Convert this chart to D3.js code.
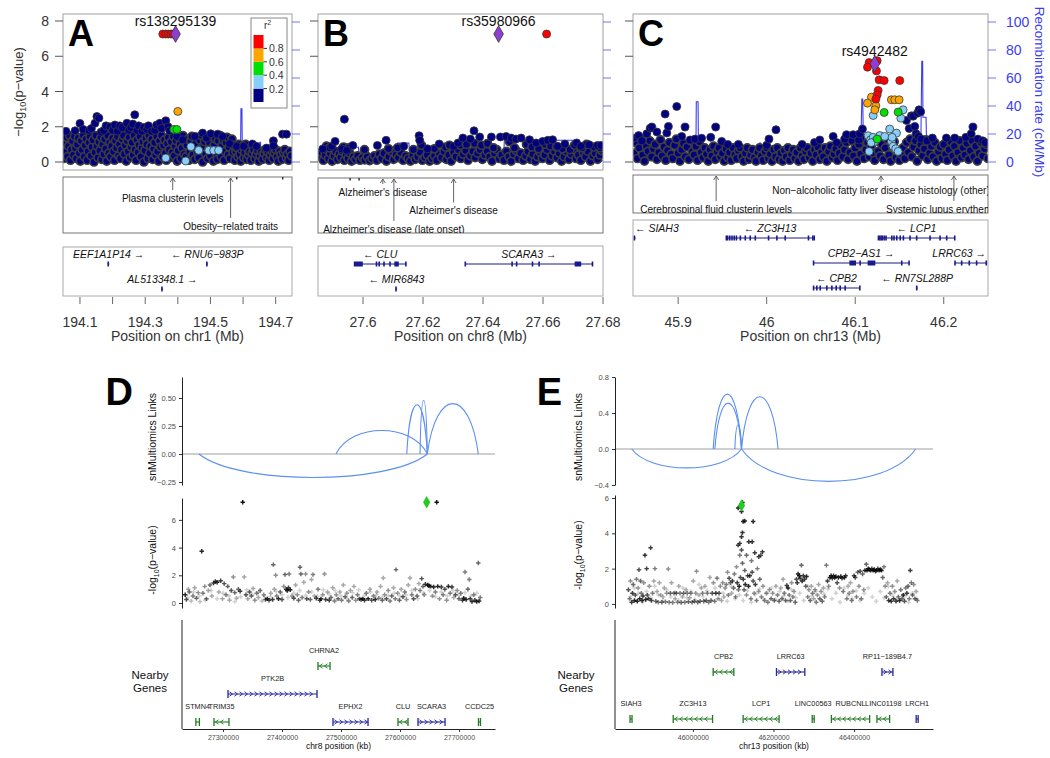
<!DOCTYPE html>
<html><head><meta charset="utf-8">
<script src="https://cdn.jsdelivr.net/npm/d3@7/dist/d3.min.js"></script>
<style>html,body{margin:0;padding:0;background:#fff;}</style>
</head><body>
<svg id="fig" width="1050" height="758" xmlns="http://www.w3.org/2000/svg"></svg>
<script>
// ================= DATA =================
// ---- Panel A : chr1 (Mb) ----
const aTicks=[194.1,194.2,194.3,194.4,194.5,194.6,194.7];
const aTickLabels=["194.1","","194.3","","194.5","","194.7"];
const aBand=[[194.050,0.2],[194.053,1.1],[194.056,0.6],[194.059,1.4],[194.062,0.3],[194.065,0.9],[194.068,1.5],[194.071,0.1],[194.074,0.7],[194.077,1.2],[194.080,0.4],[194.083,1.45],[194.086,0.8],[194.089,0.2],[194.092,1.0],[194.095,1.35],[194.098,0.5],[194.101,0.05],[194.104,1.2],[194.107,0.7],[194.110,1.5],[194.113,0.3],[194.116,0.95],[194.119,1.3],[194.122,0.1],[194.125,0.6],[194.128,1.1],[194.131,1.45],[194.134,0.35],[194.137,0.85],[194.140,1.25],[194.143,0.0],[194.146,0.55],[194.149,1.5],[194.152,0.9],[194.155,0.25],[194.158,1.15],[194.161,0.65],[194.164,1.4],[194.167,0.15],[194.170,1.0],[194.173,0.45],[194.176,1.3],[194.179,0.75],[194.182,0.05],[194.185,1.5],[194.188,0.5],[194.191,1.1],[194.194,0.3],[194.197,0.9],[194.200,1.35],[194.203,0.6],[194.206,0.1],[194.209,1.2],[194.212,0.8],[194.215,1.45],[194.218,0.35],[194.221,1.0],[194.224,0.2],[194.227,0.7],[194.230,1.3],[194.233,1.5],[194.236,0.45],[194.239,0.95],[194.242,0.05],[194.245,1.2],[194.248,0.6],[194.251,1.4],[194.254,0.25],[194.257,0.85],[194.260,1.1],[194.263,0.4],[194.266,1.5],[194.269,0.7],[194.272,0.1],[194.275,1.25],[194.278,0.55],[194.281,0.95],[194.284,1.45],[194.287,0.3],[194.290,0.8],[194.293,1.15],[194.296,0.0],[194.299,0.65],[194.302,1.35],[194.305,1.0],[194.308,0.2],[194.311,1.5],[194.314,0.5],[194.317,0.9],[194.320,1.3],[194.323,0.15],[194.326,0.75],[194.329,1.1],[194.332,0.4],[194.335,1.45],[194.338,0.6],[194.341,0.05],[194.344,1.2],[194.347,0.85],[194.350,1.5],[194.353,0.3],[194.356,0.95],[194.359,1.25],[194.362,0.5],[194.365,0.1],[194.368,1.05],[194.371,1.4],[194.374,0.7],[194.377,0.25],[194.380,1.15],[194.383,0.55],[194.386,1.45],[194.389,0.35],[194.392,0.9],[194.395,1.2],[194.398,0.05],[194.401,0.65],[194.404,1.35],[194.407,1.0],[194.410,0.2],[194.413,0.8],[194.416,1.5],[194.419,0.45],[194.422,1.1],[194.425,0.3],[194.428,0.95],[194.431,1.3],[194.434,0.1],[194.437,0.6],[194.440,1.2],[194.443,1.45],[194.446,0.4],[194.449,0.85],[194.452,0.15],[194.455,1.05],[194.458,1.4],[194.461,0.55],[194.464,0.25],[194.467,1.25],[194.470,0.75],[194.473,1.5],[194.476,0.0],[194.479,0.9],[194.482,1.15],[194.485,0.45],[194.488,1.35],[194.491,0.2],[194.494,0.7],[194.497,1.1],[194.500,0.35],[194.503,1.45],[194.506,0.8],[194.509,0.05],[194.512,1.0],[194.515,1.3],[194.518,0.5],[194.521,0.15],[194.524,1.2],[194.527,0.65],[194.530,1.5],[194.533,0.3],[194.536,0.95],[194.539,1.25],[194.542,0.1],[194.545,0.6],[194.548,1.1],[194.551,1.4],[194.554,0.4],[194.557,0.85],[194.560,0.2],[194.563,1.05],[194.566,1.3],[194.569,0.55],[194.572,0.95],[194.575,0.1],[194.578,0.6],[194.581,0.8],[194.584,0.3],[194.587,1.0],[194.590,0.45],[194.593,0.05],[194.596,0.7],[194.599,0.9],[194.602,0.25],[194.605,0.55],[194.608,1.0],[194.611,0.15],[194.614,0.75],[194.617,0.4],[194.620,0.6],[194.624,0.1],[194.628,0.5],[194.632,0.7],[194.636,0.2],[194.640,0.45],[194.644,0.65],[194.648,0.05],[194.652,0.35],[194.656,0.6],[194.660,0.15],[194.664,0.5],[194.668,0.7],[194.672,0.25],[194.676,0.55],[194.680,0.1],[194.684,0.4],[194.688,0.65],[194.692,0.2],[194.696,0.5],[194.700,0.7],[194.704,0.3],[194.708,0.05],[194.712,0.6],[194.716,0.4],[194.720,0.15],[194.724,0.55],[194.728,0.7],[194.732,0.25],[194.736,0.45],[194.740,0.1],[194.744,0.6],[194.748,0.35]];
const aSnps=[[194.057,1.74,0.1],[194.085,1.77,0.1],[194.100,2.19,0.1],[194.110,1.85,0.1],[194.128,1.79,0.1],[194.135,1.9,0.1],[194.146,2.2,0.1],[194.152,2.58,0.1],[194.158,2.49,0.1],[194.165,1.7,0.1],[194.173,1.79,0.1],[194.180,2.05,0.1],[194.192,2.0,0.1],[194.200,1.8,0.1],[194.207,2.1,0.1],[194.215,1.75,0.1],[194.222,2.05,0.1],[194.230,1.95,0.1],[194.244,2.2,0.1],[194.250,1.8,0.1],[194.256,1.96,0.1],[194.262,2.15,0.1],[194.268,2.68,0.1],[194.275,1.8,0.1],[194.280,2.05,0.1],[194.290,1.75,0.1],[194.296,1.96,0.1],[194.305,1.85,0.1],[194.310,2.05,0.1],[194.320,1.74,0.1],[194.330,1.8,0.1],[194.335,2.1,0.1],[194.345,2.2,0.1],[194.350,1.9,0.1],[194.363,2.34,0.1],[194.370,2.0,0.1],[194.375,1.77,0.1],[194.397,1.45,0.1],[194.415,1.26,0.1],[194.452,1.45,0.1],[194.476,1.64,0.1],[194.488,1.36,0.1],[194.501,1.6,0.1],[194.522,1.58,0.1],[194.537,1.45,0.1],[194.559,1.04,0.1],[194.580,0.89,0.1],[194.602,0.89,0.1],[194.629,1.02,0.1],[194.641,0.89,0.1],[194.672,0.79,0.1],[194.693,1.2,0.1],[194.693,0.92,0.1],[194.721,1.58,0.1],[194.733,1.58,0.1],
[194.440,0.87,0.3],[194.363,0.23,0.3],[194.424,0.06,0.3],[194.464,0.66,0.3],[194.495,0.66,0.3],[194.510,0.66,0.3],[194.525,0.66,0.3],
[194.388,1.85,0.5],[194.397,1.85,0.5],[194.400,2.87,0.7],
[194.354,7.26,0.9],[194.363,7.26,0.9],[194.371,7.26,0.9],[194.379,7.26,0.9],[194.386,7.26,0.9]];
const aLead=[194.393,7.26];
const aRecomb=[[194.048,0.5],[194.2,0.8],[194.35,0.4],[194.5,0.6],[194.592,0.5],[194.5935,38],[194.5965,38],[194.598,0.6],[194.65,0.5],[194.6515,14],[194.6535,14],[194.655,0.7],[194.75,0.5]];
const aGwas=[[194.3844,"Plasma clusterin levels",0],[194.5618,"Obesity\u2212related traits",1],[194.5805,"",-1],[194.7215,"",-1]];
const aGenes=[["EEF1A1P14",194.1856,194.1864,"+",0,[]],["RNU6\u2212983P",194.4880,194.4886,"-",0,[]],["AL513348.1",194.3504,194.3510,"+",1,[]]];

// ---- Panel B : chr8 (Mb) ----
const bTicks=[27.6,27.62,27.64,27.66,27.68];
const bTickLabels=["27.6","27.62","27.64","27.66","27.68"];
const bBand=[[27.5856,0.3],[27.5861,0.55],[27.5868,0.1],[27.5874,0.4],[27.588,0.7],[27.5885,0.2],[27.5891,0.5],[27.5897,0.05],[27.5903,0.35],[27.5909,0.6],[27.5915,0.15],[27.592,0.45],[27.5926,0.25],[27.5932,0.6],[27.5938,0.1],[27.5944,0.4],[27.595,0.2],[27.5956,0.5],[27.5962,0.05],[27.5968,0.3],[27.5975,0.15],[27.5982,0.35],[27.599,0.1],[27.5998,0.25],[27.6006,0.12],[27.6014,0.3],[27.6022,0.08],[27.603,0.2],[27.6038,0.35],[27.6046,0.1],[27.6054,0.45],[27.6062,0.2],[27.607,0.5],[27.6078,0.05],[27.6086,0.3],[27.6094,0.6],[27.6102,0.15],[27.611,0.4],[27.6118,0.25],[27.6126,0.55],[27.6134,0.1],[27.6142,0.35],[27.615,0.2],[27.6158,0.05],[27.6166,0.4],[27.6174,0.15],[27.6182,0.3],[27.619,0.55],[27.6198,0.1],[27.6206,0.25],[27.6214,0.4],[27.6222,0.05],[27.623,0.2],[27.6238,0.35],[27.6246,0.1],[27.6254,0.5],[27.6262,0.25],[27.627,0.6],[27.6278,0.15],[27.6286,0.4],[27.6294,0.05],[27.6302,0.55],[27.631,0.3],[27.6318,0.7],[27.6326,0.2],[27.6334,0.45],[27.6342,0.65],[27.635,0.1],[27.6358,0.35],[27.6366,0.6],[27.6374,0.25],[27.6382,0.5],[27.639,0.7],[27.6398,0.15],[27.6406,0.4],[27.6414,0.6],[27.6422,0.3],[27.643,0.05],[27.6438,0.5],[27.6446,0.7],[27.6454,0.2],[27.6462,0.4],[27.647,0.1],[27.6478,0.6],[27.6486,0.3],[27.6494,0.05],[27.6502,0.45],[27.651,0.65],[27.6518,0.2],[27.6526,0.5],[27.6534,0.1],[27.6542,0.35],[27.655,0.6],[27.6558,0.15],[27.6566,0.45],[27.6574,0.05],[27.6582,0.3],[27.659,0.55],[27.6598,0.2],[27.6606,0.4],[27.6614,0.7],[27.6622,0.1],[27.663,0.35],[27.6638,0.6],[27.6646,0.25],[27.6654,0.5],[27.6662,0.05],[27.667,0.3],[27.6678,0.6],[27.6686,0.15],[27.6694,0.45],[27.6702,0.7],[27.671,0.2],[27.6718,0.4],[27.6726,0.1],[27.6734,0.55],[27.6742,0.3],[27.675,0.6],[27.6758,0.05],[27.6766,0.35],[27.6774,0.5],[27.6782,0.15],[27.679,0.4],[27.6795,0.65],
[27.5878,0.9],[27.5888,0.8],[27.5935,0.85],[27.5952,0.8],[27.6005,0.7],[27.6085,0.75],[27.6115,0.8],[27.6168,0.7],[27.6195,0.95],[27.6238,0.75],[27.6275,0.85],[27.6288,0.95],[27.6325,0.95],[27.6345,1.0],[27.6372,1.05],[27.6395,0.95],[27.6415,1.05],[27.6435,0.8],[27.6488,1.15],[27.6505,0.8],[27.6545,1.0],[27.6563,0.85],[27.6585,0.75],[27.6608,1.0],[27.6625,0.9],[27.6645,0.85],[27.6665,0.75],[27.669,0.7],[27.6705,0.95],[27.673,0.8],[27.6745,1.0],[27.677,0.85],[27.679,0.8]];
const bSnps=[[27.5866,0.74,0.1],[27.5896,0.89,0.1],[27.5907,1.17,0.1],[27.5929,0.74,0.1],[27.5938,2.43,0.1],[27.5946,0.66,0.1],[27.5966,0.94,0.1],[27.6048,0.94,0.1],[27.6077,1.23,0.1],[27.6136,0.89,0.1],[27.6187,1.49,0.1],[27.6189,1.23,0.1],[27.6215,0.75,0.1],[27.6254,1.02,0.1],[27.6302,0.89,0.1],[27.6317,1.08,0.1],[27.6333,1.36,0.1],[27.6358,1.3,0.1],[27.637,1.77,0.1],[27.6389,1.42,0.1],[27.6428,1.42,0.1],[27.6458,1.42,0.1],[27.6477,1.45,0.1],[27.6494,1.36,0.1],[27.651,1.3,0.1],[27.6527,1.36,0.1],[27.6555,1.26,0.1],[27.6577,1.08,0.1],[27.6599,1.17,0.1],[27.6616,1.23,0.1],[27.6632,1.26,0.1],[27.6649,0.89,0.1],[27.6673,1.02,0.1],[27.6712,1.08,0.1],[27.6726,0.89,0.1],[27.6754,0.98,0.1],[27.6782,0.94,0.1],[27.6793,0.94,0.1],
[27.6612,7.26,0.9]];
const bLead=[27.6452,7.26];
const bRecomb=[[27.585,2],[27.5957,2],[27.5959,10.5],[27.5985,10.5],[27.5987,1.5],[27.6111,1.5],[27.6115,13.5],[27.6153,13.5],[27.6157,2],[27.6469,2],[27.6471,15.5],[27.672,15.5],[27.6722,1],[27.68,1]];
const bGwas=[[27.6066,"Alzheimer's disease",0],[27.6103,"Alzheimer's disease (late onset)",2],[27.6302,"Alzheimer's disease",1],[27.5957,"",-1],[27.5987,"",-1]];
const bGenes=[["CLU",27.5971,27.6144,"-",0,[[27.5971,27.6001],[27.6044,27.6046],[27.6053,27.6055],[27.6069,27.6071],[27.6089,27.6091],[27.6106,27.6121],[27.6142,27.6144]]],
["SCARA3",27.6340,27.6766,"+",0,[[27.634,27.6342],[27.6496,27.6498],[27.6511,27.6513],[27.6564,27.6566],[27.6586,27.659],[27.6707,27.6729],[27.6764,27.6766]]],
["MIR6843",27.6109,27.6111,"-",1,[[27.6109,27.6111]]]];

// ---- Panel C : chr13 (Mb) ----
const cTicks=[45.9,46,46.1,46.2];
const cTickLabels=["45.9","46","46.1","46.2"];
const cBand=[[45.850,0.5],[45.852,1.1],[45.854,0.2],[45.856,0.8],[45.858,1.3],[45.860,0.4],[45.862,0.05],[45.864,0.9],[45.866,0.6],[45.868,1.2],[45.870,0.3],[45.872,0.75],[45.874,1.0],[45.876,0.15],[45.878,0.55],[45.880,1.25],[45.882,0.35],[45.884,0.85],[45.886,0.1],[45.888,0.65],[45.890,1.1],[45.892,0.45],[45.894,0.2],[45.896,0.95],[45.898,1.3],[45.900,0.5],[45.902,0.05],[45.904,0.7],[45.906,1.05],[45.908,0.3],[45.910,0.85],[45.912,0.15],[45.914,1.2],[45.916,0.6],[45.918,0.4],[45.920,0.9],[45.922,0.1],[45.924,1.15],[45.926,0.55],[45.928,0.25],[45.930,0.8],[45.932,0.45],[45.934,0.05],[45.936,0.7],[45.938,0.35],[45.940,0.9],[45.942,0.15],[45.944,0.6],[45.946,0.8],[45.948,0.3],[45.950,0.5],[45.952,0.05],[45.954,0.75],[45.956,0.25],[45.958,0.55],[45.960,0.1],[45.962,0.8],[45.964,0.4],[45.966,0.2],[45.968,0.65],[45.970,0.8],[45.972,0.3],[45.974,0.05],[45.976,0.5],[45.978,0.8],[45.980,0.15],[45.982,0.4],[45.984,0.7],[45.986,0.25],[45.988,0.05],[45.990,0.55],[45.992,0.8],[45.994,0.35],[45.996,0.1],[45.998,0.6],[46.000,0.8],[46.002,0.2],[46.004,0.45],[46.006,0.05],[46.008,0.7],[46.010,0.3],[46.012,0.8],[46.014,0.15],[46.016,0.5],[46.018,0.05],[46.020,0.65],[46.022,0.3],[46.024,0.8],[46.026,0.1],[46.028,0.45],[46.030,0.7],[46.032,0.2],[46.034,0.55],[46.036,0.05],[46.038,0.8],[46.040,0.35],[46.042,0.15],[46.044,0.6],[46.046,0.8],[46.048,0.25],[46.050,0.5],[46.052,0.05],[46.054,0.7],[46.056,0.4],[46.058,0.85],[46.060,0.15],[46.062,0.55],[46.064,0.3],[46.066,0.8],[46.068,0.05],[46.070,0.6],[46.072,0.9],[46.074,0.25],[46.076,0.45],[46.078,0.75],[46.080,0.1],[46.082,0.5],[46.084,0.95],[46.086,0.3],[46.088,0.7],[46.090,1.1],[46.092,0.15],[46.094,0.55],[46.096,1.2],[46.098,0.35],[46.100,0.8],[46.102,0.05],[46.104,1.0],[46.106,0.45],[46.108,1.3],[46.110,0.2],[46.112,0.7],[46.114,1.1],[46.116,0.3],[46.118,0.9],[46.120,0.5],[46.122,0.1],[46.124,1.2],[46.126,0.6],[46.128,0.35],[46.130,1.0],[46.132,0.15],[46.134,0.8],[46.136,1.3],[46.138,0.4],[46.140,0.05],[46.142,0.9],[46.144,1.15],[46.146,0.25],[46.148,0.6],[46.150,0.1],[46.152,0.45],[46.154,0.8],[46.156,0.2],[46.158,1.1],[46.160,0.55],[46.162,1.3],[46.164,0.3],[46.166,0.85],[46.168,1.2],[46.170,0.05],[46.172,0.65],[46.174,1.0],[46.176,0.35],[46.178,0.75],[46.180,1.25],[46.182,0.15],[46.184,0.5],[46.186,0.9],[46.188,0.3],[46.190,1.1],[46.192,0.05],[46.194,0.6],[46.196,0.85],[46.198,0.2],[46.200,1.0],[46.202,0.45],[46.204,0.1],[46.206,0.7],[46.208,1.15],[46.210,0.35],[46.212,0.9],[46.214,0.05],[46.216,0.55],[46.218,1.2],[46.220,0.25],[46.222,0.8],[46.224,0.4],[46.226,1.05],[46.228,0.15],[46.230,0.65],[46.232,1.2],[46.234,0.3],[46.236,0.9],[46.238,0.05],[46.240,0.5],[46.242,1.1],[46.244,0.35],[46.246,0.75],[46.248,1.0],[46.250,0.2]];
const cSnps=[[45.8496,1.35,0.1],[45.8553,1.5,0.1],[45.8590,1.2,0.1],[45.8646,1.6,0.1],[45.8684,1.92,0.1],[45.8703,1.98,0.1],[45.8760,1.7,0.1],[45.8853,2.72,0.1],[45.8872,1.65,0.1],[45.8890,2.02,0.1],[45.8984,3.15,0.1],[45.9040,1.45,0.1],[45.9078,1.98,0.1],[45.9135,1.25,0.1],[45.9191,1.3,0.1],[45.9265,1.35,0.1],[45.9368,1.4,0.1],[45.9424,1.98,0.1],[45.9492,1.17,0.1],[45.9560,1.0,0.1],[45.9680,1.0,0.1],[46.0000,0.95,0.1],[46.0026,1.3,0.1],[46.0105,1.83,0.1],[46.0400,1.0,0.1],[46.0540,1.1,0.1],[46.0600,1.25,0.1],[46.0751,1.45,0.1],[46.0790,1.1,0.1],[46.0880,1.3,0.1],[46.0902,1.55,0.1],[46.0977,1.55,0.1],[46.1040,1.25,0.1],[46.1050,1.6,0.1],[46.1082,1.87,0.1],[46.1579,2.36,0.1],[46.1610,1.9,0.1],[46.1635,2.62,0.1],[46.1655,2.6,0.1],[46.1673,2.02,0.1],[46.1688,1.6,0.1],[46.1703,2.77,0.1],[46.1715,1.45,0.1],[46.1721,2.96,0.1],[46.1740,2.85,0.1],[46.1745,1.3,0.1],[46.1810,1.2,0.1],[46.1872,1.36,0.1],[46.2030,1.36,0.1],[46.2124,1.36,0.1],[46.2250,1.4,0.1],[46.2310,1.6,0.1],[46.2330,1.98,0.1],[46.2385,1.3,0.1],[46.2440,1.2,0.1],[46.2470,1.1,0.1],
[46.1203,2.64,0.3],[46.1541,2.96,0.3],[46.1515,2.49,0.3],[46.1390,1.87,0.3],[46.1466,1.64,0.3],[46.1146,1.49,0.3],[46.1173,1.26,0.3],[46.1203,1.4,0.3],[46.1221,1.17,0.3],[46.1278,1.5,0.3],[46.1409,1.17,0.3],[46.1428,0.89,0.3],[46.1458,0.75,0.3],[46.1485,0.6,0.3],[46.1157,0.6,0.3],[46.1334,1.45,0.3],[46.1417,1.4,0.3],[46.1180,1.1,0.3],
[46.1327,2.81,0.5],[46.1485,2.83,0.5],[46.1248,1.30,0.5],
[46.1184,3.68,0.7],[46.1139,3.34,0.7],[46.1233,3.19,0.7],[46.1221,2.96,0.7],[46.1409,3.53,0.7],[46.1447,3.53,0.7],[46.1496,3.53,0.7],
[46.1157,5.64,0.9],[46.1248,5.75,0.9],[46.1139,5.38,0.9],[46.1240,5.17,0.9],[46.1270,4.66,0.9],[46.1327,4.62,0.9],[46.1503,4.62,0.9],[46.1259,4.06,0.9],[46.1248,3.81,0.9],[46.1233,3.57,0.9]];
const cLead=[46.1221,5.57];
const cRecomb=[[45.849,2],[45.92,3],[45.9205,43],[45.9225,43],[45.923,3],[45.9915,1.5],[45.992,13.5],[45.993,13.5],[45.9935,1.5],[46.106,2],[46.1075,45],[46.1085,45],[46.1095,2],[46.145,1],[46.147,0],[46.157,0],[46.159,3],[46.174,4],[46.1752,72],[46.1762,72],[46.1765,32],[46.18,32],[46.181,3],[46.25,3]];
const cGwas=[[45.9429,"Cerebrospinal fluid clusterin levels",1],[46.1291,"Non\u2212alcoholic fatty liver disease histology (other)",0],[46.2115,"Systemic lupus erythematosus",1]];
const cGenes=[["SIAH3",45.8503,45.8506,"-",0,[]],
["ZC3H13",45.9541,46.0537,"-",0,[[45.9541,45.9546],[45.9556,45.9562],[45.958,45.9586],[45.9605,45.961],[45.963,45.9635],[45.9655,45.966],[45.9699,45.9703],[45.9755,45.9758],[45.9811,45.9814],[45.9868,45.9871],[46.0018,46.0021],[46.0112,46.0115],[46.0206,46.0209],[46.0469,46.0472],[46.0518,46.0521],[46.0534,46.0537]]],
["LCP1",46.1259,46.2124,"-",0,[[46.1259,46.1263],[46.1275,46.1279],[46.129,46.1294],[46.1305,46.1309],[46.1325,46.133],[46.1345,46.1353],[46.141,46.1414],[46.1435,46.1439],[46.1466,46.147],[46.1505,46.1509],[46.1541,46.1545],[46.1616,46.162],[46.1691,46.1695],[46.1842,46.1846],[46.1955,46.1959],[46.203,46.2034],[46.2121,46.2124]]],
["CPB2\u2212AS1",46.0526,46.1609,"+",1,[[46.0526,46.0529],[46.094,46.1015],[46.1052,46.1056],[46.1146,46.1233],[46.1522,46.1526],[46.1605,46.1609]]],
["LRRC63",46.2124,46.249,"+",1,[[46.2124,46.2127],[46.2199,46.2202],[46.2285,46.2288],[46.2368,46.2371],[46.2477,46.249]]],
["CPB2",46.0526,46.1052,"-",2,[[46.0526,46.0529],[46.0563,46.0566],[46.0601,46.0604],[46.0676,46.0679],[46.0733,46.0736],[46.0782,46.0785],[46.0827,46.083],[46.0883,46.0886],[46.1049,46.1052]]],
["RN7SL288P",46.1691,46.1694,"-",2,[]]];

// ---- Panel D : chr8 (kb) ----
const dTicks=[27300,27400,27500,27600,27700];
const dArcs=[[27259.3,27646.3,-0.21],[27491.5,27646.3,0.21],[27611.4,27646.3,0.44],[27633.9,27646.3,0.48],[27646.3,27732.7,0.45]];
const dSnps=[[27236,0.6,0.9],[27238,0.25,0.7],[27241,1.0,0.3],[27243,0.8,0.6],[27246,0.15,0.2],[27249,0.5,0.5],[27252,1.1,0.3],[27255,0.35,0.6],[27258,0.75,0.4],[27261,0.1,0.2],[27263.9,3.73,0.9],[27266,0.7,0.5],[27269,1.2,0.4],[27272,0.3,0.6],[27275,0.9,0.3],[27278,1.3,0.6],[27281,0.5,0.3],[27284,1.45,0.8],[27287,1.55,0.8],[27290,1.5,0.9],[27293,0.8,0.3],[27296,1.6,0.8],[27299,0.3,0.3],[27302,1.4,0.7],[27305,0.6,0.5],[27308,1.2,0.6],[27311,0.2,0.3],[27314,0.9,0.7],[27317.5,1.88,0.4],[27320,0.75,0.6],[27323,0.35,0.3],[27326,1.0,0.6],[27329,0.85,0.8],[27333.4,7.28,1],[27336,1.88,0.3],[27339,0.6,0.7],[27342,0.3,0.3],[27345,0.8,0.7],[27348,0.5,0.6],[27351,1.05,0.3],[27354,0.2,0.4],[27357,0.7,0.5],[27360,0.4,0.3],[27363,0.9,0.6],[27366,0.15,0.2],[27369,0.6,0.4],[27372,0.25,0.7],[27375,0.3,0.9],[27378,0.2,0.8],[27381,0.7,0.3],[27384,0.25,0.8],[27385.3,2.77,0.6],[27387,1.0,0.3],[27389.3,2.0,0.4],[27391,0.5,0.5],[27394,0.3,0.9],[27397,0.8,0.6],[27400,0.25,0.7],[27403,1.2,0.4],[27405,2.05,0.6],[27407,1.0,0.8],[27409,0.9,0.9],[27411,1.1,0.8],[27412,2.1,0.5],[27414,0.95,0.9],[27417,0.5,0.4],[27420,0.35,0.7],[27423,1.3,0.3],[27426,0.6,0.4],[27428,0.2,0.6],[27430.5,2.58,0.6],[27432,2.1,0.6],[27434,0.4,0.5],[27437,1.5,0.3],[27440,2.1,0.4],[27442,0.3,0.7],[27445,0.8,0.4],[27448,0.25,0.6],[27450,1.7,0.3],[27452.5,2.05,0.5],[27455,0.5,0.3],[27458,0.35,0.8],[27461,1.0,0.5],[27464,0.2,0.8],[27466,0.3,0.9],[27469,0.6,0.4],[27472,2.1,0.4],[27474,0.25,0.8],[27477,0.8,0.3],[27480,0.2,0.8],[27483,0.4,0.6],[27486,1.1,0.3],[27489,0.15,0.5],[27492,0.6,0.4],[27495,0.3,0.6],[27498,0.8,0.3],[27501,0.2,0.5],[27504,1.3,0.3],[27507,0.45,0.6],[27510,0.7,0.4],[27513,0.15,0.5],[27516,0.9,0.3],[27519,0.4,0.6],[27522,1.2,0.3],[27525,0.2,0.4],[27528,0.6,0.5],[27531,0.3,0.7],[27534,0.25,0.8],[27537,0.3,0.9],[27540,0.2,0.8],[27543,0.7,0.5],[27546,0.3,0.9],[27549,1.0,0.3],[27552,0.2,0.7],[27555,0.5,0.5],[27558,0.25,0.9],[27561,0.8,0.3],[27564,0.35,0.5],[27567,1.2,0.3],[27570,0.2,0.6],[27571.7,1.8,0.3],[27574,0.6,0.4],[27577,0.3,0.7],[27580,0.9,0.4],[27583,0.15,0.5],[27586,0.5,0.6],[27589,1.1,0.3],[27592,0.3,0.5],[27593.2,2.41,0.6],[27596,0.7,0.4],[27599,0.2,0.6],[27602,1.0,0.3],[27605,0.45,0.7],[27608,0.8,0.5],[27611,0.25,0.4],[27614,1.3,0.3],[27617,1.8,0.3],[27620,0.6,0.5],[27623,0.3,0.7],[27626,1.0,0.4],[27629,0.5,0.6],[27632,1.4,0.3],[27634,0.9,0.5],[27636.7,1.76,0.7],[27639,1.2,0.6],[27641,0.6,0.4],[27643,1.35,0.8],[27647,1.3,0.9],[27649,1.25,0.9],[27652,1.2,0.8],[27655,0.5,0.4],[27657,1.15,0.9],[27660,0.8,0.5],[27662.2,7.28,1],[27664,1.2,0.9],[27667,0.3,0.4],[27670,1.15,0.8],[27673,0.6,0.5],[27676,1.0,0.7],[27679,0.2,0.4],[27682,1.2,0.9],[27685,0.7,0.5],[27688,1.15,0.8],[27691,0.4,0.3],[27694,0.6,0.7],[27697,0.9,0.4],[27700,0.3,0.6],[27703,0.7,0.5],[27706,0.2,0.8],[27708,0.35,0.9],[27710.2,2.24,0.5],[27712,0.25,0.9],[27715,1.0,0.6],[27717.5,1.69,0.5],[27719,0.3,0.8],[27722,0.1,0.9],[27725,0.6,0.5],[27727,0.2,0.8],[27730,0.1,0.9],[27732.7,2.89,0.6],[27734,0.15,0.9],[27736,0.4,0.5],
[27240,0.4,0.1],[27250,0.8,0.1],[27260,0.5,0.1],[27270,0.2,0.1],[27280,0.9,0.1],[27290,0.3,0.1],[27300,0.7,0.1],[27310,0.5,0.1],[27320,0.1,0.1],[27330,0.45,0.1],[27340,0.95,0.1],[27350,0.6,0.1],[27360,0.75,0.1],[27370,0.5,0.1],[27380,0.45,0.1],[27390,0.85,0.1],[27400,0.6,0.1],[27410,0.4,0.1],[27420,0.7,0.1],[27430,0.9,0.1],[27440,0.55,0.1],[27450,0.8,0.1],[27460,0.5,0.1],[27470,0.95,0.1],[27480,0.65,0.1],[27490,0.9,0.1],[27500,0.5,0.1],[27510,0.3,0.1],[27520,0.75,0.1],[27530,0.95,0.1],[27540,0.55,0.1],[27550,0.8,0.1],[27560,0.6,0.1],[27570,0.4,0.1],[27580,0.55,0.1],[27590,0.7,0.1],[27600,0.5,0.1],[27610,0.6,0.1],[27620,0.9,0.1],[27630,0.3,0.1],[27640,0.7,0.1],[27650,0.9,0.1],[27660,0.45,0.1],[27670,0.8,0.1],[27680,0.5,0.1],[27690,0.9,0.1],[27700,0.55,0.1],[27710,0.75,0.1],[27720,0.5,0.1],[27730,0.7,0.1]];
const dLead=[27645.2,7.28];
const dGenes=[["STMN4",27254,27260,"-",0],["TRIM35",27284.7,27310.1,"-",0],["PTK2B",27308.5,27459.3,"+",1],["CHRNA2",27461,27481.4,"-",2],["EPHX2",27486.4,27545.8,"+",0],["CLU",27596.6,27613.6,"-",0],["SCARA3",27630.5,27676.3,"+",0],["CCDC25",27733,27735,"-",0]];

// ---- Panel E : chr13 (kb) ----
const eTicks=[46000,46200,46400];
const eArcs=[[45848.1,46120.7,-0.21],[46120.7,46552.7,-0.36],[46050.3,46120.7,0.61],[46054.5,46120.7,0.51],[46104.1,46120.7,0.27],[46120.7,46211.4,0.58]];
const eSnps=[[46123.0,5.75,0.95],[46112.3,5.43,0.9],[46120.6,5.24,0.9],[46124.7,4.67,0.9],[46128.8,4.7,0.9],[46149.5,4.67,0.9],[46123.0,4.04,0.85],[46120.6,3.81,0.85],[46116.4,3.43,0.8],[46112.3,3.33,0.8],[46138.7,3.52,0.85],[46147.0,3.52,0.85],[46120.6,3.05,0.7],[46153.6,2.9,0.8],[46172.6,2.95,0.8],[46163.5,2.67,0.8],[46168.5,2.76,0.7],[46133,2.76,0.6],[46116.4,2.76,0.5],[46123,2.3,0.6],[46145.4,2.45,0.5],[46128.8,1.9,0.6],
[45840,0.8,0.7],[45843,0.3,0.5],[45845,1.3,0.4],[45848,0.1,0.8],[45850,0.6,0.8],[45852,1.1,0.6],[45855,0.2,0.9],[45857,0.5,0.7],[45860,1.4,0.5],[45862,0.15,0.9],[45864,0.9,0.4],[45866.2,1.94,0.7],[45868,0.3,0.9],[45870,1.3,0.6],[45872,0.6,0.5],[45874,0.2,0.9],[45876,0.45,0.8],[45878,1.2,0.4],[45881,2.76,0.85],[45883,0.25,0.9],[45885.2,2.0,0.8],[45887,0.5,0.7],[45890,0.3,0.8],[45892,1.0,0.4],[45895.1,3.18,0.8],[45897,0.2,0.8],[45900,0.6,0.5],[45903,1.3,0.3],[45905.8,2.0,0.5],[45908,0.15,0.6],[45911,0.7,0.3],[45914,0.1,0.5],[45917,1.2,0.3],[45920,0.5,0.3],[45923,0.1,0.6],[45926,0.4,0.3],[45929,0.9,0.3],[45932,0.12,0.5],[45935,0.6,0.4],[45938.9,1.98,0.4],[45941,0.1,0.5],[45944,0.6,0.6],[45947,1.2,0.3],[45950,0.08,0.5],[45953,0.6,0.5],[45956,0.3,0.3],[45959,0.6,0.6],[45962,0.1,0.5],[45965,1.0,0.3],[45968,0.6,0.5],[45971,0.08,0.6],[45974,0.4,0.3],[45977,0.6,0.6],[45980,0.1,0.5],[45983,0.8,0.3],[45986,0.6,0.5],[45989,0.12,0.6],[45992,0.35,0.3],[45995,0.6,0.5],[45998,0.1,0.6],[46001,1.3,0.3],[46004,0.15,0.6],[46007,0.6,0.4],[46009.1,1.85,0.4],[46012,0.1,0.6],[46015,0.5,0.3],[46018,0.15,0.6],[46021,0.9,0.3],[46024,0.6,0.5],[46027,0.15,0.6],[46030,1.0,0.3],[46033,0.2,0.6],[46036,0.6,0.5],[46039,0.1,0.5],[46042,1.5,0.3],[46045,0.2,0.5],[46048,0.6,0.7],[46051,1.2,0.4],[46054,0.15,0.5],[46057,0.6,0.8],[46060,1.45,0.5],[46062,0.3,0.3],[46065,0.6,0.7],[46068,1.0,0.4],[46071,0.2,0.3],[46074,1.2,0.4],[46077,0.4,0.3],[46080,0.9,0.4],[46083,1.1,0.5],[46086,1.8,0.4],[46088,0.5,0.5],[46090,1.45,0.7],[46093,1.2,0.6],[46096,0.6,0.3],[46098,1.3,0.8],[46101,0.9,0.6],[46103,1.7,0.5],[46106,0.4,0.5],[46108.2,2.1,0.4],[46110,1.2,0.8],[46113,0.8,0.5],[46115,1.0,0.9],[46118,1.5,0.7],[46125,1.4,0.8],[46127,0.8,0.6],[46130,1.1,0.9],[46133,0.5,0.4],[46136,1.6,0.7],[46138,1.0,0.9],[46141.2,1.6,0.8],[46144,0.3,0.5],[46147,1.8,0.7],[46149.5,1.3,0.7],[46152,0.6,0.4],[46155,1.1,0.8],[46158,0.2,0.5],[46160,2.0,0.5],[46163,0.7,0.4],[46166,1.4,0.6],[46170,0.4,0.5],[46174,1.0,0.4],[46178,0.2,0.5],[46182,0.6,0.4],[46186,0.1,0.5],[46190,0.8,0.4],[46194,0.3,0.6],[46198,0.6,0.4],[46202,0.2,0.6],[46206,1.0,0.3],[46210,0.5,0.5],[46214,0.15,0.6],[46218,0.9,0.3],[46221,0.3,0.6],[46224,1.4,0.3],[46227,0.6,0.5],[46230,0.2,0.6],[46233,1.05,0.8],[46236,0.9,0.9],[46239,0.5,0.5],[46242,0.2,0.6],[46245,1.2,0.4],[46248,0.4,0.5],[46251,0.7,0.4],[46254,0.1,0.6],[46257,1.4,0.7],[46259,1.2,0.8],[46261,1.7,0.9],[46264,1.6,0.9],[46266,1.45,0.8],[46269.3,2.19,0.6],[46271,1.3,0.9],[46274,1.6,0.8],[46277,1.4,0.8],[46280,1.0,0.6],[46282,1.55,0.9],[46285,0.4,0.5],[46288,0.8,0.4],[46291,0.2,0.6],[46294,1.0,0.3],[46297,0.6,0.5],[46300,0.3,0.3],[46303,0.8,0.4],[46306,0.1,0.5],[46309,0.5,0.4],[46312,1.1,0.3],[46315,0.3,0.5],[46318,0.7,0.4],[46321,0.15,0.6],[46324,0.9,0.3],[46327,0.4,0.5],[46331.2,2.19,0.5],[46334,1.3,0.8],[46337,1.0,0.4],[46340,1.5,0.9],[46343,1.6,0.9],[46346,1.45,0.8],[46349,1.6,0.8],[46352,1.5,0.9],[46355,1.55,0.8],[46358,1.2,0.7],[46361,1.5,0.9],[46364,0.9,0.4],[46367,1.55,0.9],[46370,1.45,0.8],[46373,0.7,0.5],[46376,1.5,0.9],[46379,1.6,0.8],[46382,0.3,0.5],[46385,1.0,0.3],[46388,0.6,0.4],[46391,1.2,0.3],[46394,0.2,0.5],[46397,0.7,0.4],[46400,1.6,0.8],[46403,1.5,0.7],[46406,0.4,0.5],[46409,1.8,0.6],[46412,1.0,0.4],[46415,1.85,0.7],[46418,0.3,0.5],[46421,1.7,0.6],[46424,0.8,0.4],[46427,1.9,0.9],[46430.3,2.25,0.6],[46432,1.9,0.9],[46435,2.0,0.9],[46438,1.95,0.9],[46441,1.9,0.9],[46444,2.0,0.8],[46447,1.9,0.9],[46450,1.95,0.9],[46453,1.85,0.8],[46456,1.9,0.9],[46459,2.0,0.8],[46462,1.9,0.9],[46465,1.95,0.9],[46468,1.9,0.9],[46471,1.5,0.6],[46474,2.1,0.5],[46477,1.0,0.4],[46480,0.4,0.6],[46483,1.2,0.3],[46486,0.2,0.8],[46489,0.6,0.5],[46492,0.15,0.8],[46495,1.0,0.4],[46498,0.3,0.8],[46501,0.7,0.4],[46504,0.15,0.8],[46507,1.3,0.3],[46510,0.4,0.6],[46513,0.2,0.9],[46516,0.8,0.4],[46519,0.3,0.6],[46522,0.5,0.9],[46525,0.15,0.7],[46528,0.9,0.5],[46531,0.6,0.8],[46534,1.0,0.6],[46537,0.3,0.5],[46539.4,1.9,0.8],[46542,1.2,0.5],[46545,0.5,0.6],[46548,1.1,0.4],[46551,0.3,0.6],[46554,0.7,0.3],[46557,0.2,0.5],
[45845,0.4,0.1],[45855,0.9,0.1],[45865,0.6,0.1],[45875,0.1,0.1],[45885,0.7,0.1],[45895,0.35,0.1],[45905,1.0,0.1],[45915,0.5,0.1],[45925,0.2,0.1],[45935,0.8,0.1],[45945,0.4,0.1],[45955,0.65,0.1],[45965,0.2,0.1],[45975,0.9,0.1],[45985,0.35,0.1],[45995,0.7,0.1],[46005,0.25,0.1],[46015,1.1,0.1],[46025,0.4,0.1],[46035,0.75,0.1],[46045,0.2,0.1],[46055,0.9,0.1],[46065,0.3,0.1],[46075,0.6,0.1],[46085,0.15,0.1],[46095,1.0,0.1],[46105,0.3,0.1],[46115,0.5,0.1],[46125,0.2,0.1],[46135,0.75,0.1],[46145,0.1,0.1],[46155,0.55,0.1],[46165,0.85,0.1],[46175,0.3,0.1],[46185,0.6,0.1],[46195,0.9,0.1],[46205,0.25,0.1],[46215,0.7,0.1],[46225,0.45,0.1],[46235,0.15,0.1],[46245,0.8,0.1],[46255,0.35,0.1],[46265,0.6,0.1],[46275,0.2,0.1],[46285,1.0,0.1],[46295,0.45,0.1],[46305,0.7,0.1],[46315,0.25,0.1],[46325,0.55,0.1],[46335,0.85,0.1],[46345,0.3,0.1],[46355,0.6,0.1],[46365,0.1,0.1],[46375,0.9,0.1],[46385,0.5,0.1],[46395,0.3,0.1],[46405,0.75,0.1],[46415,0.2,0.1],[46425,0.6,0.1],[46435,0.9,0.1],[46445,0.4,0.1],[46455,0.15,0.1],[46465,0.7,0.1],[46475,0.35,0.1],[46485,1.0,0.1],[46495,0.5,0.1],[46505,0.25,0.1],[46515,0.8,0.1],[46525,0.4,0.1],[46535,0.1,0.1],[46545,0.6,0.1],[46555,0.3,0.1]];
const eLead=[46120.6,5.58];
const eGenes=[["SIAH3",45844,45848,"-",0],["ZC3H13",45951.2,46048.8,"-",0],["CPB2",46050.3,46101.6,"-",1],["LCP1",46124.7,46213.9,"-",0],["LRRC63",46207.4,46277.6,"+",1],["LINC00563",46296,46300,"-",0],["RUBCNL",46343.7,46438.6,"-",0],["LINC01198",46456.8,46488.2,"-",0],["RP11\u2212189B4.7",46469.1,46496.4,"+",1],["LRCH1",46554,46558,"+",0]];

const r2Breaks=[0.2,0.4,0.6,0.8];

// ================= DRAWING =================
const FONT='"Liberation Sans", Arial, Helvetica, sans-serif';
const svg=d3.select("#fig").style("font-family",FONT);
const defs=svg.append("defs");
const r2col=d3.scaleThreshold().domain(r2Breaks).range(["#000080","#87CEFA","#00E000","#FFA500","#FF0000"]);
const PURPLE="#8E3ED0", RECOMB="#3d3df2";

function locus(c){
  const x=d3.scaleLinear().domain(c.domain).range([c.x0,c.x1]);
  const y=d3.scaleLinear().domain([0,8]).range([162,21]);
  const yr=d3.scaleLinear().domain([0,100]).range([162,22]);
  const g=svg.append("g");
  const cid="clip"+c.id;
  defs.append("clipPath").attr("id",cid).append("rect").attr("x",c.x0).attr("y",14).attr("width",c.x1-c.x0).attr("height",156);
  const pg=g.append("g").attr("clip-path",`url(#${cid})`);
  pg.append("path").datum(c.recomb).attr("fill","none").attr("stroke",RECOMB).attr("stroke-width",1.1)
    .attr("d",d3.line().x(d=>x(d[0])).y(d=>yr(d[1])));
  pg.append("g").selectAll("circle").data(c.band).join("circle")
    .attr("cx",d=>x(d[0])).attr("cy",d=>y(d[1])).attr("r",4)
    .attr("fill","#000080").attr("stroke","#3c3c3c").attr("stroke-width",1.7);
  const sorted=c.snps.slice().sort((a,b)=>a[2]-b[2]);
  pg.append("g").selectAll("circle").data(sorted).join("circle")
    .attr("cx",d=>x(d[0])).attr("cy",d=>y(d[1])).attr("r",4)
    .attr("fill",d=>r2col(d[2])).attr("stroke","#3a3a3a").attr("stroke-width",0.8);
  pg.append("path").attr("d",d3.symbol(d3.symbolDiamond,80)())
    .attr("transform",`translate(${x(c.lead[0])},${y(c.lead[1])})`)
    .attr("fill",PURPLE).attr("stroke","#333").attr("stroke-width",0.8);
  g.append("rect").attr("x",c.x0).attr("y",14).attr("width",c.x1-c.x0).attr("height",156)
    .attr("fill","none").attr("stroke","#a0a0a0").attr("stroke-width",1);
  const yt=[0,2,4,6,8];
  g.append("g").selectAll("line").data(yt).join("line")
    .attr("x1",c.x0-8).attr("x2",c.x0).attr("y1",d=>y(d)).attr("y2",d=>y(d)).attr("stroke","#555");
  if(c.leftLabels){
    g.append("g").selectAll("text").data(yt).join("text")
      .attr("x",c.x0-14).attr("y",d=>y(d)+5).attr("text-anchor","end").attr("font-size",14).attr("fill","#333").text(d=>d);
    const t=g.append("text").attr("transform","translate(23,92) rotate(-90)").attr("text-anchor","middle").attr("font-size",13).attr("fill","#333");
    t.append("tspan").text("\u2212log");
    t.append("tspan").attr("font-size",9).attr("dy",3).text("10");
    t.append("tspan").attr("dy",-3).text("(p\u2212value)");
  }
  const rt=[0,20,40,60,80,100];
  g.append("g").selectAll("line").data(rt).join("line")
    .attr("x1",c.x1).attr("x2",c.x1+8).attr("y1",d=>yr(d)).attr("y2",d=>yr(d)).attr("stroke",RECOMB).attr("stroke-opacity",0.7);
  if(c.rightLabels){
    g.append("g").selectAll("text").data(rt).join("text")
      .attr("x",c.x1+18).attr("y",d=>yr(d)+5).attr("font-size",14).attr("fill",RECOMB).text(d=>d);
    g.append("text").attr("transform","translate(1035,92) rotate(90)").attr("text-anchor","middle")
      .attr("font-size",13.5).attr("fill",RECOMB).text("Recombination rate (cM/Mb)");
  }
  g.append("text").attr("x",x(c.lead[0])).attr("y",y(c.lead[1])-8).attr("text-anchor","middle").attr("font-size",14).attr("fill","#111").text(c.rs);
  g.append("text").attr("x",c.x0+5).attr("y",46).attr("font-size",36).attr("font-weight","bold").attr("fill","#000").text(c.letter);
  const gcid="gclip"+c.id;
  defs.append("clipPath").attr("id",gcid).append("rect").attr("x",c.x0).attr("y",c.gTop).attr("width",c.x1-c.x0).attr("height",c.gBot-c.gTop);
  g.append("rect").attr("x",c.x0).attr("y",c.gTop).attr("width",c.x1-c.x0).attr("height",c.gBot-c.gTop)
    .attr("fill","none").attr("stroke","#777").attr("stroke-width",1);
  const gg=g.append("g").attr("clip-path",`url(#${gcid})`);
  const rowY=d3.scaleLinear().domain([0,c.gRows.length-1]).range([c.gRows[0],c.gRows[c.gRows.length-1]]);
  c.gwas.forEach(d=>{
    const xx=x(d[0]);
    if(d[2]<0){
      gg.append("line").attr("x1",xx).attr("x2",xx).attr("y1",c.gTop).attr("y2",c.gTop+2.5).attr("stroke","#333").attr("stroke-width",1.5);
      return;
    }
    const ty=rowY(d[2]);
    gg.append("line").attr("x1",xx).attr("x2",xx).attr("y1",c.gTop+1).attr("y2",ty-8).attr("stroke","#666").attr("stroke-width",1);
    gg.append("path").attr("d",`M${xx-2.5},${c.gTop+5}L${xx},${c.gTop+1}L${xx+2.5},${c.gTop+5}`).attr("fill","none").attr("stroke","#555").attr("stroke-width",0.9);
    gg.append("text").attr("x",xx).attr("y",ty+3.5).attr("text-anchor","middle").attr("font-size",10).attr("fill","#111").text(d[1]);
  });
  g.append("rect").attr("x",c.x0).attr("y",c.geneTop).attr("width",c.x1-c.x0).attr("height",296-c.geneTop)
    .attr("fill","none").attr("stroke","#aaa").attr("stroke-width",1);
  const gy=d=>c.geneRow0+25*d;
  c.genes.forEach(d=>{
    const [name,s,e,strand,row,exons]=d;
    const yy=gy(row), col="#1a1a8c";
    const xs=x(s), xe=Math.max(x(e),xs+1.5);
    g.append("line").attr("x1",xs).attr("x2",xe).attr("y1",yy).attr("y2",yy).attr("stroke",col).attr("stroke-width",1);
    const ex=exons.length?exons:[[s,e]];
    g.append("g").selectAll("rect").data(ex).join("rect")
      .attr("x",q=>x(q[0])-0.5).attr("width",q=>Math.max(x(q[1])-x(q[0]),1.6)).attr("y",yy-2.5).attr("height",5).attr("fill",col);
    const lbl=strand==="+"?name+" \u2192":"\u2190 "+name;
    const t=g.append("text").attr("y",yy-6).attr("text-anchor","middle").attr("font-size",10.5).attr("font-style","italic").attr("fill","#111").text(lbl);
    const w=t.node().getComputedTextLength();
    let cx=(xs+xe)/2;
    cx=Math.max(c.x0+w/2+2,Math.min(c.x1-w/2-2,cx));
    t.attr("x",cx);
  });
  g.append("g").selectAll("line").data(c.ticks).join("line")
    .attr("x1",d=>x(d)).attr("x2",d=>x(d)).attr("y1",297).attr("y2",304).attr("stroke","#666");
  g.append("g").selectAll("text").data(c.ticks).join("text")
    .attr("x",d=>x(d)).attr("y",327).attr("text-anchor","middle").attr("font-size",14).attr("fill","#333").text((d,i)=>c.tickLabels[i]);
  g.append("text").attr("x",(c.x0+c.x1)/2).attr("y",341).attr("text-anchor","middle").attr("font-size",14).attr("fill","#333").text(c.title);
  return g;
}

const gA=locus({id:"A",letter:"A",domain:[194.048,194.75],x0:63,x1:292,band:aBand,snps:aSnps,lead:aLead,recomb:aRecomb,rs:"rs138295139",
  leftLabels:true,rightLabels:false,gTop:177,gBot:233,gRows:[198,226],gwas:aGwas,geneTop:247,geneRow0:264,genes:aGenes,
  ticks:aTicks,tickLabels:aTickLabels,title:"Position on chr1 (Mb)"});
locus({id:"B",letter:"B",domain:[27.585,27.68],x0:318,x1:603,band:bBand,snps:bSnps,lead:bLead,recomb:bRecomb,rs:"rs35980966",
  leftLabels:false,rightLabels:false,gTop:178,gBot:233,gRows:[192,210,229],gwas:bGwas,geneTop:246,geneRow0:264,genes:bGenes,
  ticks:bTicks,tickLabels:bTickLabels,title:"Position on chr8 (Mb)"});
locus({id:"C",letter:"C",domain:[45.849,46.25],x0:633,x1:988,band:cBand,snps:cSnps,lead:cLead,recomb:cRecomb,rs:"rs4942482",
  leftLabels:false,rightLabels:true,gTop:175,gBot:213,gRows:[190,209],gwas:cGwas,geneTop:220,geneRow0:238,genes:cGenes,
  ticks:cTicks,tickLabels:cTickLabels,title:"Position on chr13 (Mb)"});

(function(){
  const lg=gA.append("g");
  lg.append("rect").attr("x",251).attr("y",18).attr("width",36).attr("height",90).attr("fill","#fff").attr("stroke","#888");
  const ly=d3.scaleLinear().domain([0,1]).range([102,35]);
  const segs=[0,0.2,0.4,0.6,0.8];
  lg.selectAll("rect.s").data(segs).join("rect").attr("x",253.5).attr("width",10)
    .attr("y",d=>ly(d+0.2)).attr("height",d=>ly(d)-ly(d+0.2)).attr("fill",d=>r2col(d+0.1));
  lg.selectAll("line.t").data(r2Breaks).join("line").attr("x1",263.5).attr("x2",267).attr("y1",d=>ly(d)).attr("y2",d=>ly(d)).attr("stroke","#333");
  lg.selectAll("text.t").data(r2Breaks).join("text").attr("x",269).attr("y",d=>ly(d)+4).attr("font-size",10.5).attr("fill","#333").text(d=>d.toFixed(1));
  const rt=lg.append("text").attr("x",264).attr("y",29).attr("font-size",10).attr("fill","#333");
  rt.append("tspan").text("r");
  rt.append("tspan").attr("font-size",7).attr("dy",-4).text("2");
})();

function links(c){
  const g=svg.append("g");
  const x=d3.scaleLinear().domain(c.domain).range([c.x0,c.x1]);
  const yl=d3.scaleLinear().domain(c.lDom).range([485,377]);
  const yp=d3.scaleLinear().domain(c.pDom).range([608,c.pTop]);
  const ink="#4d4d4d";
  const ax1=g.append("g").attr("transform",`translate(${c.x0},0)`)
    .call(d3.axisLeft(yl).tickValues(c.lTicks).tickSize(3).tickSizeOuter(0).tickFormat(d3.format(c.lFmt)));
  const ax2=g.append("g").attr("transform",`translate(${c.x0},0)`)
    .call(d3.axisLeft(yp).tickValues([0,2,4,6]).tickSize(3).tickSizeOuter(0).tickFormat(d3.format("d")));
  [ax1,ax2].forEach(a=>{a.selectAll("text").attr("font-size",7.5).attr("fill",ink).attr("font-family",FONT);a.selectAll("line").attr("stroke","#333");a.select(".domain").attr("stroke","#222");});
  g.append("line").attr("x1",c.x0+1).attr("x2",c.x1).attr("y1",yl(0)).attr("y2",yl(0)).attr("stroke","#cfcfcf").attr("stroke-width",2);
  const arcPath=d=>{
    const x0=x(d[0]),x1=x(d[1]),b=yl(0),k=(yl(d[2])-b)/0.75,w=x1-x0,a=0.17;
    return `M${x0},${b}C${x0+a*w},${b+k} ${x1-a*w},${b+k} ${x1},${b}`;
  };
  g.append("g").selectAll("path").data(c.arcs).join("path").attr("d",arcPath).attr("fill","none").attr("stroke","#5b8ff0").attr("stroke-width",1.1);
  const op=d3.scaleLinear().domain([0,1]).range([0.1,0.92]);
  g.append("g").selectAll("path").data(c.snps.slice().sort((a,b)=>a[2]-b[2])).join("path")
    .attr("d",d3.symbol(d3.symbolCross,11)()).attr("transform",d=>`translate(${x(d[0])},${yp(d[1])})`)
    .attr("fill","#000").attr("fill-opacity",d=>op(d[2]));
  g.append("path").attr("d",d3.symbol(d3.symbolDiamond,45)()).attr("transform",`translate(${x(c.lead[0])},${yp(c.lead[1])})`).attr("fill","#22cc22");
  g.append("text").attr("transform",`translate(${c.tx},437) rotate(-90)`).attr("text-anchor","middle").attr("font-size",10.5).attr("fill","#111").text("snMultiomics Links");
  const t=g.append("text").attr("transform",`translate(${c.tx},${c.ptY}) rotate(-90)`).attr("text-anchor","middle").attr("font-size",10.5).attr("fill","#111");
  t.append("tspan").text("-log");t.append("tspan").attr("font-size",7).attr("dy",2.5).text("10");t.append("tspan").attr("dy",-2.5).text("(p\u2212value)");
  g.append("text").attr("x",c.letterX).attr("y",405).attr("font-size",38).attr("font-weight","bold").attr("text-anchor","end").attr("fill","#000").text(c.letter);
  g.append("line").attr("x1",c.x0).attr("x2",c.x0).attr("y1",620).attr("y2",729).attr("stroke","#222");
  const ax3=g.append("g").attr("transform","translate(0,729)")
    .call(d3.axisBottom(x).tickValues(c.ticks).tickSize(3).tickSizeOuter(0).tickFormat(d=>String(d*1000)));
  ax3.select(".domain").attr("stroke","#222");
  ax3.selectAll("text").attr("font-size",7).attr("fill",ink).attr("font-family",FONT);
  ax3.selectAll("line").attr("stroke","#333");
  g.append("text").attr("x",(c.x0+c.x1)/2).attr("y",749).attr("text-anchor","middle").attr("font-size",8.5).attr("fill","#111").text(c.xTitle);
  g.append("text").attr("x",c.tx-6).attr("y",679).attr("text-anchor","middle").attr("font-size",11.5).attr("fill","#111").text("Nearby");
  g.append("text").attr("x",c.tx-6).attr("y",692).attr("text-anchor","middle").attr("font-size",11.5).attr("fill","#111").text("Genes");
  const rowY=d3.scaleLinear().domain([0,1]).range(c.rows);
  c.genes.forEach(d=>{
    const [name,s,e,strand,row]=d;
    const col=strand==="+"?"#24249e":"#1f7a1f";
    const xs=x(s), xe=Math.max(x(e),xs+2), yy=rowY(row);
    const gg=g.append("g");
    gg.append("line").attr("x1",xs).attr("x2",xe).attr("y1",yy).attr("y2",yy).attr("stroke",col).attr("stroke-width",1.1);
    [xs,xe].forEach(p=>gg.append("line").attr("x1",p).attr("x2",p).attr("y1",yy-4).attr("y2",yy+4).attr("stroke",col).attr("stroke-width",1.3));
    const dir=strand==="+"?1:-1;
    for(let p=xs+3;p<=xe-2;p+=5){
      gg.append("path").attr("d",`M${p-1.5*dir},${yy-2.2}L${p+1.5*dir},${yy}L${p-1.5*dir},${yy+2.2}`).attr("fill","none").attr("stroke",col).attr("stroke-width",0.9);
    }
    g.append("text").attr("x",(xs+xe)/2).attr("y",yy-13).attr("text-anchor","middle").attr("font-size",7.3).attr("fill","#222").text(name);
  });
}

links({letter:"D",letterX:133,domain:[27230.5,27761],x0:182,x1:495,lDom:[-0.277,0.6875],lTicks:[-0.25,0,0.25,0.5],lFmt:".2f",
  pDom:[-0.36,7.58],pTop:498,arcs:dArcs,snps:dSnps,lead:dLead,tx:156,ptY:560,ticks:dTicks,xTitle:"chr8 position (kb)",
  rows:[722,694],genes:dGenes});
links({letter:"E",letterX:562,domain:[45806.7,46595.8],x0:615,x1:933,lDom:[-0.4,0.8],lTicks:[-0.4,0,0.4,0.8],lFmt:".1f",
  pDom:[-0.23,6.17],pTop:495,arcs:eArcs,snps:eSnps,lead:eLead,tx:582,ptY:555,ticks:eTicks,xTitle:"chr13 position (kb)",
  rows:[719,672],genes:eGenes});
</script>
</body></html>
